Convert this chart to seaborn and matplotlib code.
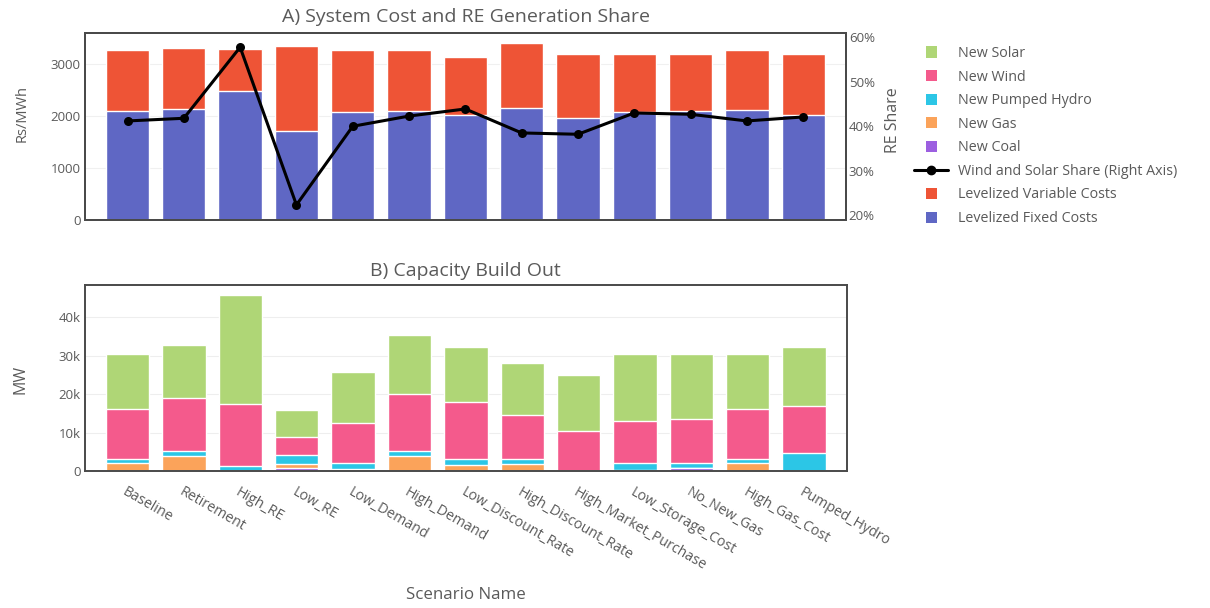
import numpy as np
import matplotlib
matplotlib.use("Agg")
import matplotlib.pyplot as plt
from matplotlib.patches import Patch, Rectangle
from matplotlib.lines import Line2D
from matplotlib.legend_handler import HandlerPatch
from matplotlib.ticker import FuncFormatter
import seaborn as sns

# ---- data -------------------------------------------------------------
scenarios = ["Baseline", "Retirement", "High_RE", "Low_RE", "Low_Demand",
             "High_Demand", "Low_Discount_Rate", "High_Discount_Rate",
             "High_Market_Purchase", "Low_Storage_Cost", "No_New_Gas",
             "High_Gas_Cost", "Pumped_Hydro"]

# levelized system cost, Rs/MWh
fixed_costs = [2090, 2130, 2480, 1720, 2080, 2090, 2020, 2150, 1960, 2080, 2100, 2110, 2030]
variable_costs = [1190, 1180, 810, 1630, 1190, 1190, 1120, 1250, 1230, 1110, 1090, 1160, 1160]

# wind and solar share of generation, %
re_share = [41.2, 41.8, 57.8, 22.3, 40.0, 42.3, 43.9, 38.5, 38.2, 43.0, 42.7, 41.2, 42.1]

# new capacity, MW
new_coal = [0, 0, 0, 900, 0, 0, 0, 0, 0, 0, 900, 0, 0]
new_gas = [2000, 4000, 0, 800, 400, 3900, 1600, 1700, 0, 300, 0, 2000, 0]
new_hydro = [1200, 1200, 1300, 2400, 1800, 1300, 1600, 1500, 0, 1700, 1300, 1200, 4600]
new_wind = [12900, 13800, 16100, 4700, 10200, 14800, 14700, 11300, 10400, 11000, 11300, 12900, 12300]
new_solar = [14300, 13800, 28400, 7000, 13300, 15400, 14400, 13600, 14600, 17400, 16900, 14300, 15400]

# ---- style --------------------------------------------------------------
C_FIXED = "#5f67c4"
C_VAR = "#ee5436"
C_COAL = "#9c5fe0"
C_GAS = "#fba35a"
C_HYDRO = "#2cc6e6"
C_WIND = "#f45a8c"
C_SOLAR = "#afd676"
TEXT = "#5a5a5a"
FRAME = "#4a4a4a"

sns.set_theme(style="white")
plt.rcParams["font.family"] = ["Open Sans", "DejaVu Sans"]

fig = plt.figure(figsize=(12.1, 6.08), dpi=100)
W, H = 1210, 608


def axes_px(left, top, right, bottom):
    return fig.add_axes([left / W, 1 - bottom / H, (right - left) / W, (bottom - top) / H])


ax1 = axes_px(85, 33, 846, 220)
ax3 = axes_px(85, 285, 847, 471)

n = len(scenarios)
xs = np.arange(n)
bw = 0.77

# ---- A) system cost --------------------------------------------------------
total_cost = np.add(fixed_costs, variable_costs)
sns.barplot(x=scenarios, y=total_cost, color=C_VAR, saturation=1, width=bw,
            errorbar=None, ax=ax1)
sns.barplot(x=scenarios, y=fixed_costs, color=C_FIXED, saturation=1, width=bw,
            errorbar=None, ax=ax1)
ax1.set_xlim(-0.755, n - 1 + 0.76)
ax1.set_ylim(0, 3600)
ax1.set_yticks([0, 1000, 2000, 3000])
ax1.set_xticks(xs)
ax1.set_xticklabels([])
ax1.set_xlabel("")
ax1.set_ylabel("")
ax1.yaxis.grid(True, color="#f0f0f0", lw=0.8)
ax1.set_axisbelow(True)

ax2 = ax1.twinx()
sns.lineplot(x=xs, y=re_share, color="black", marker="o", markersize=6.5,
             linewidth=2.2, markeredgewidth=0, ax=ax2)
ax2.set_ylim(18.9, 61.0)
ax2.set_yticks([20, 30, 40, 50, 60])
ax2.yaxis.set_major_formatter(FuncFormatter(lambda v, p: f"{v:.0f}%"))
ax2.set_ylabel("")
ax2.set_xlim(ax1.get_xlim())

# ---- B) capacity build out -------------------------------------------------
layers = [(new_coal, C_COAL), (new_gas, C_GAS), (new_hydro, C_HYDRO),
          (new_wind, C_WIND), (new_solar, C_SOLAR)]
cum = np.cumsum([np.asarray(v, dtype=float) for v, _ in layers], axis=0)
for (vals, color), top in reversed(list(zip(layers, cum))):
    sns.barplot(x=scenarios, y=top, color=color, saturation=1, width=bw,
                errorbar=None, ax=ax3)
ax3.set_xlim(-0.755, n - 1 + 0.76)
ax3.set_ylim(0, 48400)
ax3.set_yticks([0, 10000, 20000, 30000, 40000])
ax3.yaxis.set_major_formatter(FuncFormatter(lambda v, p: "0" if v == 0 else f"{v/1000:.0f}k"))
ax3.yaxis.grid(True, color="#eeeeee", lw=0.8)
ax3.set_axisbelow(True)
ax3.set_xlabel("")
ax3.set_ylabel("")
ax3.set_xticks(xs)
ax3.set_xticklabels(scenarios, rotation=-30, ha="left", va="top",
                    rotation_mode="anchor", fontsize=10.2, color=TEXT)
ax3.tick_params(axis="x", length=0, pad=10)

for ax in (ax1, ax2, ax3):
    for sp in ax.spines.values():
        sp.set_visible(True)
        sp.set_color(FRAME)
        sp.set_linewidth(1.4)
    ax.tick_params(axis="y", length=0, pad=3, labelsize=9.5, labelcolor=TEXT)
ax2.tick_params(axis="y", pad=2)

# ---- texts -----------------------------------------------------------------
fig.text(466 / W, 1 - 17 / H, "A) System Cost and RE Generation Share",
         ha="center", va="center", fontsize=14, color=TEXT)
fig.text(465 / W, 1 - 271 / H, "B) Capacity Build Out",
         ha="center", va="center", fontsize=14, color=TEXT)
fig.text(22 / W, 1 - 113 / H, "Rs/MWh", rotation=90, ha="center", va="center",
         fontsize=10.5, color=TEXT)
fig.text(20 / W, 1 - 379 / H, "MW", rotation=90, ha="center", va="center",
         fontsize=11.5, color=TEXT)
fig.text(893 / W, 1 - 120 / H, "RE Share", rotation=90, ha="center", va="center",
         fontsize=11.5, color=TEXT)
fig.text(466 / W, 1 - 595 / H, "Scenario Name", ha="center", va="center",
         fontsize=12.2, color=TEXT)


# ---- legend ----------------------------------------------------------------
class SquarePatch(HandlerPatch):
    def create_artists(self, legend, orig_handle, xdescent, ydescent,
                       width, height, fontsize, trans):
        s = height * 1.1
        x0 = -xdescent + (width - s) / 2
        y0 = -ydescent + (height - s) / 2
        r = Rectangle((x0, y0), s, s, facecolor=orig_handle.get_facecolor(),
                      edgecolor="none", transform=trans)
        return [r]


handles = [
    Patch(color=C_SOLAR, label="New Solar"),
    Patch(color=C_WIND, label="New Wind"),
    Patch(color=C_HYDRO, label="New Pumped Hydro"),
    Patch(color=C_GAS, label="New Gas"),
    Patch(color=C_COAL, label="New Coal"),
    Line2D([], [], color="black", lw=2.2, marker="o", markersize=6,
           label="Wind and Solar Share (Right Axis)"),
    Patch(color=C_VAR, label="Levelized Variable Costs"),
    Patch(color=C_FIXED, label="Levelized Fixed Costs"),
]
leg = fig.legend(handles=handles, loc="upper left",
                 bbox_to_anchor=(914 / W, 1 - 46 / H), frameon=False,
                 fontsize=10.3, labelspacing=0.6, handlelength=2.4,
                 handletextpad=0.7, borderpad=0, borderaxespad=0,
                 handler_map={Patch: SquarePatch()})
for t in leg.get_texts():
    t.set_color(TEXT)

fig.savefig("out.png", dpi=100, facecolor="white")
